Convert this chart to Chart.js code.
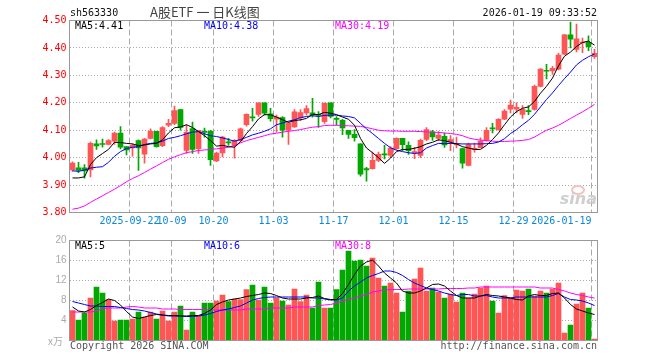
<!DOCTYPE html>
<html><head><meta charset="utf-8">
<script src="https://cdn.jsdelivr.net/npm/chart.js@4.4.1/dist/chart.umd.min.js"></script>
<style>
html,body{margin:0;padding:0;background:#fff;}
#wrap{position:relative;width:660px;height:360px;overflow:hidden;background:#fff;}
#c1{position:absolute;left:0;top:0;}
#c2{position:absolute;left:0;top:230px;}
</style></head><body>
<div id="wrap">
<canvas id="c1" width="660" height="235"></canvas>
<canvas id="c2" width="660" height="130"></canvas>
</div>
<script>
const dates = ["2025-09-08","2025-09-09","2025-09-10","2025-09-11","2025-09-12","2025-09-15","2025-09-16","2025-09-17","2025-09-18","2025-09-19",
"2025-09-22","2025-09-23","2025-09-24","2025-09-25","2025-09-26","2025-09-29","2025-09-30","2025-10-09","2025-10-10","2025-10-13",
"2025-10-14","2025-10-15","2025-10-16","2025-10-17","2025-10-20","2025-10-21","2025-10-22","2025-10-23","2025-10-24","2025-10-27",
"2025-10-28","2025-10-29","2025-10-30","2025-10-31","2025-11-03","2025-11-04","2025-11-05","2025-11-06","2025-11-07","2025-11-10",
"2025-11-11","2025-11-12","2025-11-13","2025-11-14","2025-11-17","2025-11-18","2025-11-19","2025-11-20","2025-11-21","2025-11-24",
"2025-11-25","2025-11-26","2025-11-27","2025-11-28","2025-12-01","2025-12-02","2025-12-03","2025-12-04","2025-12-05","2025-12-08",
"2025-12-09","2025-12-10","2025-12-11","2025-12-12","2025-12-15","2025-12-16","2025-12-17","2025-12-18","2025-12-19","2025-12-22",
"2025-12-23","2025-12-24","2025-12-25","2025-12-26","2025-12-29","2025-12-30","2025-12-31","2026-01-05","2026-01-06","2026-01-07",
"2026-01-08","2026-01-09","2026-01-12","2026-01-13","2026-01-14","2026-01-15","2026-01-16","2026-01-19"];

const tickLabels = ["2025-09-22","10-09","10-20","11-03","11-17","12-01","12-15","12-29","2026-01-19"];

const openP = [3.955,3.963,3.963,3.955,4.05,4.05,4.048,4.06,4.09,4.04,
4.035,4.062,4.013,4.07,4.096,4.044,4.118,4.125,4.175,4.026,
4.106,4.033,4.096,4.096,3.988,4.017,4.058,4.045,4.063,4.12,
4.148,4.158,4.20,4.16,4.14,4.146,4.10,4.112,4.146,4.163,
4.163,4.158,4.131,4.20,4.143,4.136,4.10,4.085,4.05,3.96,
3.96,3.99,4.014,4.008,4.033,4.07,4.045,4.018,4.008,4.066,
4.094,4.07,4.078,4.057,4.046,4.033,3.972,4.03,4.036,4.063,
4.108,4.102,4.14,4.177,4.177,4.158,4.172,4.176,4.26,4.318,
4.316,4.323,4.377,4.448,4.395,4.418,4.42,4.368];

const highP = [3.985,3.983,3.975,4.057,4.065,4.068,4.066,4.093,4.113,4.04,
4.05,4.065,4.07,4.105,4.096,4.113,4.14,4.188,4.176,4.12,
4.13,4.10,4.108,4.10,4.02,4.078,4.07,4.066,4.108,4.16,
4.18,4.20,4.20,4.18,4.155,4.15,4.13,4.175,4.175,4.19,
4.216,4.168,4.20,4.20,4.15,4.14,4.10,4.102,4.05,3.965,
4.02,4.02,4.045,4.04,4.072,4.07,4.058,4.038,4.068,4.11,
4.10,4.095,4.09,4.08,4.075,4.035,4.053,4.053,4.072,4.11,
4.125,4.142,4.175,4.21,4.20,4.19,4.19,4.265,4.325,4.34,
4.333,4.38,4.45,4.494,4.487,4.436,4.444,4.395];

const lowP = [3.95,3.945,3.925,3.93,4.03,4.038,4.046,4.048,4.032,4.01,
4.005,3.953,3.98,4.068,4.038,4.04,4.113,4.12,4.10,4.015,
4.015,4.015,4.075,3.972,3.985,4.003,4.045,3.998,4.06,4.115,
4.133,4.15,4.155,4.133,4.093,4.075,4.048,4.11,4.135,4.155,
4.148,4.11,4.125,4.145,4.118,4.084,4.07,4.06,3.932,3.914,
3.958,3.985,3.995,4.0,4.03,4.025,4.012,3.996,4.0,4.062,
4.063,4.062,4.037,4.025,4.035,3.962,3.97,4.02,4.035,4.06,
4.09,4.10,4.138,4.163,4.163,4.143,4.157,4.173,4.258,4.287,
4.303,4.32,4.375,4.40,4.385,4.383,4.39,4.362];

const closeP = [3.98,3.953,3.952,4.052,4.043,4.048,4.062,4.09,4.038,4.028,
4.045,4.035,4.068,4.096,4.04,4.11,4.125,4.172,4.11,4.092,
4.03,4.10,4.092,3.993,4.017,4.075,4.054,4.063,4.105,4.158,
4.145,4.20,4.162,4.142,4.148,4.10,4.127,4.167,4.164,4.179,
4.156,4.154,4.198,4.15,4.139,4.108,4.085,4.073,3.94,3.955,
3.99,4.012,4.01,4.035,4.07,4.047,4.025,4.022,4.063,4.102,
4.076,4.082,4.046,4.066,4.05,3.98,4.048,4.034,4.06,4.10,
4.105,4.14,4.17,4.192,4.183,4.176,4.168,4.26,4.323,4.315,
4.326,4.374,4.448,4.432,4.433,4.421,4.405,4.38];

const ma5 = [3.926,3.926,3.93,3.975,4.0,4.015,4.03,4.056,4.055,4.052,
4.05,4.044,4.046,4.05,4.052,4.065,4.09,4.109,4.112,4.12,
4.11,4.095,4.08,4.062,4.042,4.045,4.04,4.038,4.058,4.088,
4.113,4.141,4.157,4.156,4.148,4.138,4.129,4.135,4.138,4.143,
4.158,4.157,4.165,4.162,4.157,4.148,4.14,4.118,4.07,4.035,
4.018,4.0,3.979,3.998,4.022,4.03,4.03,4.034,4.04,4.05,
4.056,4.065,4.062,4.056,4.05,4.04,4.035,4.03,4.03,4.045,
4.066,4.09,4.12,4.148,4.168,4.18,4.185,4.205,4.235,4.26,
4.29,4.335,4.37,4.385,4.405,4.42,4.425,4.41];

const ma10 = [3.952,3.95,3.955,3.962,3.965,3.967,3.983,4.005,4.022,4.033,
4.038,4.04,4.048,4.052,4.054,4.06,4.07,4.074,4.08,4.087,
4.093,4.095,4.087,4.08,4.077,4.072,4.066,4.06,4.066,4.074,
4.083,4.089,4.096,4.105,4.12,4.126,4.133,4.138,4.146,4.15,
4.153,4.15,4.154,4.155,4.155,4.152,4.15,4.145,4.125,4.105,
4.088,4.07,4.052,4.036,4.027,4.022,4.018,4.015,4.018,4.035,
4.044,4.052,4.051,4.052,4.051,4.05,4.05,4.05,4.05,4.051,
4.052,4.057,4.069,4.088,4.102,4.12,4.136,4.158,4.185,4.212,
4.236,4.263,4.288,4.312,4.338,4.355,4.368,4.378];

const ma30 = [3.812,3.816,3.824,3.837,3.849,3.861,3.873,3.885,3.898,3.912,
3.924,3.934,3.946,3.958,3.97,3.982,3.994,4.003,4.011,4.018,
4.022,4.026,4.028,4.03,4.032,4.035,4.038,4.044,4.054,4.062,
4.068,4.074,4.08,4.086,4.089,4.093,4.096,4.099,4.102,4.107,
4.111,4.113,4.117,4.118,4.118,4.117,4.116,4.115,4.114,4.11,
4.105,4.1,4.098,4.097,4.097,4.096,4.096,4.096,4.095,4.094,
4.093,4.092,4.09,4.088,4.085,4.08,4.072,4.067,4.064,4.062,
4.06,4.059,4.059,4.06,4.061,4.063,4.066,4.075,4.088,4.1,
4.108,4.118,4.13,4.143,4.155,4.167,4.18,4.194];

const volume = [6.0,4.1,5.5,8.5,10.7,9.5,8.2,3.9,4.1,4.1,
4.3,5.7,4.7,5.7,4.3,5.9,3.9,5.7,6.9,2.1,
5.7,4.9,7.5,7.5,7.9,9.1,7.8,8.3,8.2,10.2,
11.1,8.1,10.7,7.5,8.5,7.9,7.1,10.3,7.8,9.1,
6.5,11.7,6.5,6.5,10.2,14.1,17.9,15.9,16.1,14.9,
16.5,12.5,10.9,11.5,9.5,5.7,9.9,12.3,14.5,9.9,
10.5,9.7,8.5,9.3,7.7,9.5,8.5,9.3,10.5,10.9,
7.9,5.5,9.0,8.5,10.1,9.9,10.3,8.9,9.9,9.5,
10.3,11.5,1.5,3.1,7.3,9.5,6.5,0.3];

const volMa5 = [6.7,5.9,5.7,6.2,7.0,7.6,8.3,8.0,7.1,5.8,
4.7,4.4,4.7,5.0,5.2,5.1,5.0,5.0,4.9,4.9,
5.0,5.0,5.4,6.1,7.2,7.7,8.1,8.3,8.5,8.8,
9.0,9.2,9.5,9.4,9.0,8.5,8.3,8.3,8.3,8.5,
8.6,8.9,8.4,8.2,8.2,9.4,11.2,13.2,14.9,15.7,
16.1,14.9,13.5,12.5,11.5,9.9,9.5,9.5,9.9,10.5,
11.2,11.3,10.9,9.9,9.0,8.5,8.5,8.5,8.9,9.2,
9.0,8.9,8.7,8.5,8.2,8.1,8.9,9.2,9.0,9.0,
9.4,9.5,8.5,7.2,6.3,5.9,5.5,5.2];

const volMa10 = [7.8,7.5,7.2,6.9,6.9,6.8,6.8,6.8,6.6,6.4,
6.2,6.1,5.9,5.6,5.3,5.1,4.9,4.9,4.9,4.8,
4.8,4.9,5.1,5.4,5.8,6.1,6.3,6.6,6.9,7.5,
8.1,8.4,8.6,8.7,8.7,8.7,8.7,8.7,8.7,8.7,
8.5,8.5,8.3,8.1,8.1,8.5,9.9,10.9,11.7,12.5,
13.0,13.4,13.9,13.9,13.6,13.0,12.2,11.5,11.0,10.5,
10.2,9.9,9.5,9.2,9.0,9.2,9.2,8.9,8.9,9.0,
8.7,8.5,8.5,8.5,8.7,8.7,8.7,8.7,8.7,8.7,
9.0,9.4,8.7,8.2,8.1,7.9,7.5,7.0];

const volMa30 = [5.7,5.7,5.7,5.7,5.9,6.4,6.5,6.5,6.5,6.7,
6.8,6.7,6.5,6.5,6.5,6.3,6.3,6.3,6.2,6.2,
6.2,6.2,6.2,6.1,6.1,6.1,6.1,6.1,6.1,6.3,
6.3,6.3,6.3,6.5,6.5,6.5,6.5,6.7,6.7,6.7,
6.7,7.0,7.1,7.2,7.5,7.9,8.2,8.5,8.9,9.2,
9.7,9.9,10.1,10.2,10.2,10.2,10.3,10.3,10.3,10.3,
10.3,10.3,10.4,10.4,10.4,10.4,10.5,10.5,10.7,10.7,
10.7,10.7,10.7,10.7,10.7,10.7,10.7,10.7,10.5,10.5,
10.5,10.2,9.9,9.5,9.2,9.0,8.7,8.5];

const RED = '#ff5555', GREEN = '#00a800';
const MONO = '"DejaVu Sans Mono", monospace';
const candleColor = closeP.map((c, i) => c >= openP[i] ? RED : GREEN);
const tickIdx = tickLabels.map(t => dates.findIndex(d => d.endsWith(t)));
const tickSet = new Set(tickIdx);
const CLEAR = 'rgba(0,0,0,0)';

function xScaleOpts(h) {
  return {
    type: 'category', offset: true,
    grid: { offset: true, drawTicks: false, lineWidth: 1,
      color: ctx => tickSet.has(ctx.index) ? '#aaaaaa' : CLEAR },
    border: { display: false, dash: [6, 3] },
    ticks: { display: false, autoSkip: false },
    afterFit: s => { s.height = h; }
  };
}
function lineDs(data, color, order) {
  return { type: 'line', data, borderColor: color, borderWidth: 1, pointRadius: 0,
    tension: 0, fill: false, order };
}

const pricePlugin = {
  id: 'priceDeco',
  afterDraw(chart) {
    const { ctx, chartArea: a, scales: { x } } = chart;
    ctx.save();
    // watermark
    ctx.strokeStyle = '#f2c4c4'; ctx.lineWidth = 2;
    ctx.beginPath(); ctx.ellipse(578, 190, 6, 4, 0, 0, Math.PI * 2); ctx.stroke();
    ctx.fillStyle = '#cfcfcf'; ctx.font = 'italic bold 16px "DejaVu Sans"';
    ctx.textAlign = 'right'; ctx.textBaseline = 'alphabetic';
    ctx.fillText('sina', 597, 204);
    // frame
    ctx.strokeStyle = '#999'; ctx.lineWidth = 1;
    ctx.strokeRect(a.left, a.top, a.right - a.left, a.bottom - a.top);
    // x labels
    ctx.font = '10px ' + MONO; ctx.fillStyle = '#0a88dd'; ctx.textBaseline = 'middle'; ctx.textAlign = 'left';
    const half = (x.getPixelForValue(1) - x.getPixelForValue(0)) / 2;
    tickLabels.forEach((t, j) => {
      const px = x.getPixelForValue(tickIdx[j]) - half;
      const w = ctx.measureText(t).width;
      let lx = px - w / 2;
      if (lx + w > a.right) lx = px - w;
      ctx.fillText(t, lx, a.bottom + 9);
    });
    // header
    ctx.fillStyle = '#111'; ctx.font = '10px ' + MONO;
    ctx.fillText('sh563330', 70, 13);
    ctx.textAlign = 'right';
    ctx.fillText('2026-01-19 09:33:52', 597, 13);
    ctx.textAlign = 'left'; ctx.fillStyle = '#444';
    ctx.font = '13px "Noto Sans CJK SC"';
    ctx.fillText('A股ETF 一 日K线图', 150, 12);
    // MA labels
    ctx.font = '10px ' + MONO;
    ctx.fillStyle = '#000'; ctx.fillText('MA5:4.41', 75, 26);
    ctx.fillStyle = '#0000ff'; ctx.fillText('MA10:4.38', 204, 26);
    ctx.fillStyle = '#ff00ff'; ctx.fillText('MA30:4.19', 335, 26);
    ctx.restore();
  }
};

const volPlugin = {
  id: 'volDeco',
  afterDraw(chart) {
    const { ctx, chartArea: a } = chart;
    ctx.save();
    ctx.strokeStyle = '#999'; ctx.lineWidth = 1;
    ctx.strokeRect(a.left, a.top, a.right - a.left, a.bottom - a.top);
    ctx.textBaseline = 'middle'; ctx.textAlign = 'left';
    ctx.font = '10px ' + MONO;
    ctx.fillStyle = '#000'; ctx.fillText('MA5:5', 75, 16.5);
    ctx.fillStyle = '#0000ff'; ctx.fillText('MA10:6', 204, 16.5);
    ctx.fillStyle = '#ff00ff'; ctx.fillText('MA30:8', 335, 16.5);
    ctx.fillStyle = '#555'; ctx.fillText('Copyright 2026 SINA.COM', 70, 116);
    ctx.textAlign = 'right'; ctx.fillText('http://finance.sina.com.cn', 597, 116);
    ctx.textAlign = 'left'; ctx.fillStyle = '#aaa';
    ctx.font = '10px "Noto Sans CJK SC"';
    ctx.fillText('x万', 48, 111);
    ctx.restore();
  }
};

new Chart(document.getElementById('c1'), {
  type: 'bar',
  data: {
    labels: dates,
    datasets: [
      lineDs(ma5, '#000000', 0),
      lineDs(ma10, '#0000ff', 1),
      lineDs(ma30, '#ff00ff', 2),
      { type: 'bar', data: dates.map((d, i) => [openP[i], closeP[i]]), backgroundColor: candleColor,
        barThickness: 5, minBarLength: 1, grouped: false, borderWidth: 0, order: 3 },
      { type: 'bar', data: dates.map((d, i) => [lowP[i], highP[i]]), backgroundColor: candleColor,
        barThickness: 1, grouped: false, borderWidth: 0, order: 4 }
    ]
  },
  options: {
    responsive: false, animation: false, devicePixelRatio: 1, events: [],
    layout: { padding: { left: 0, right: 62.5, top: 20.5, bottom: 0 } },
    plugins: { legend: { display: false }, tooltip: { enabled: false } },
    scales: {
      x: xScaleOpts(22.5),
      y: {
        min: 3.8, max: 4.5,
        ticks: { stepSize: 0.1, color: '#ff0000', font: { family: MONO, size: 10 }, padding: 3,
          callback: v => Number(v).toFixed(2) },
        grid: { drawTicks: false,
          color: ctx => (ctx.tick && (Math.abs(ctx.tick.value - 3.8) < 1e-6 || Math.abs(ctx.tick.value - 4.5) < 1e-6)) ? CLEAR : '#aaaaaa' },
        border: { display: false, dash: [1, 2] },
        afterFit: s => { s.width = 69.5; }
      }
    }
  },
  plugins: [pricePlugin]
});

new Chart(document.getElementById('c2'), {
  type: 'bar',
  data: {
    labels: dates,
    datasets: [
      lineDs(volMa5, '#000000', 0),
      lineDs(volMa10, '#0000ff', 1),
      lineDs(volMa30, '#ff00ff', 2),
      { type: 'bar', data: volume, backgroundColor: candleColor, barThickness: 5,
        grouped: false, borderWidth: 0, order: 3 }
    ]
  },
  options: {
    responsive: false, animation: false, devicePixelRatio: 1, events: [],
    layout: { padding: { left: 0, right: 62.5, top: 10.5, bottom: 0 } },
    plugins: { legend: { display: false }, tooltip: { enabled: false } },
    scales: {
      x: xScaleOpts(19.5),
      y: {
        min: 0, max: 20,
        ticks: { stepSize: 4, color: '#aaaaaa', font: { family: '"Liberation Sans", sans-serif', size: 10 }, padding: 3,
          callback: v => v === 0 ? '' : String(v) },
        grid: { drawTicks: false,
          color: ctx => (ctx.tick && (ctx.tick.value === 0 || ctx.tick.value === 20)) ? CLEAR : '#aaaaaa' },
        border: { display: false, dash: [1, 2] },
        afterFit: s => { s.width = 69.5; }
      }
    }
  },
  plugins: [volPlugin]
});
</script>
</body></html>
